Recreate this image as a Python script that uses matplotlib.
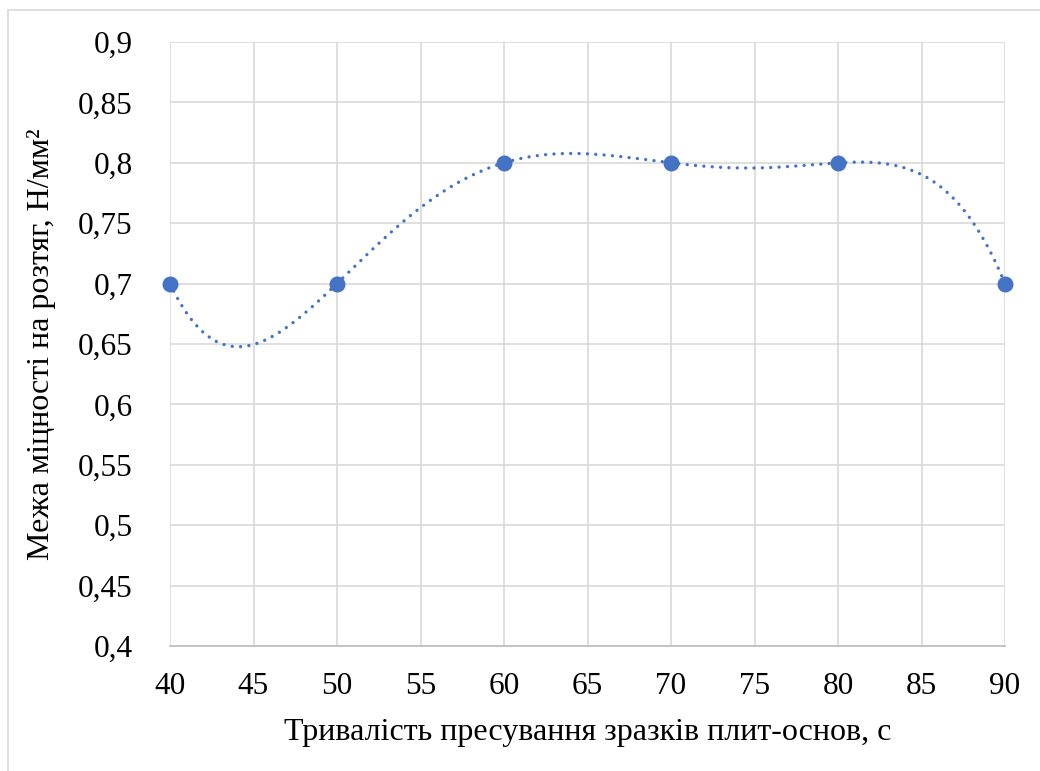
import numpy as np
import matplotlib
matplotlib.use("Agg")
import matplotlib.pyplot as plt
from matplotlib.patches import Rectangle

# data
duration = [40, 50, 60, 70, 80, 90]
strength = [0.7, 0.7, 0.8, 0.8, 0.8, 0.7]
x_ticks = [40, 45, 50, 55, 60, 65, 70, 75, 80, 85, 90]
y_ticks = [0.4, 0.45, 0.5, 0.55, 0.6, 0.65, 0.7, 0.75, 0.8, 0.85, 0.9]

plt.rcParams['font.family'] = ['Liberation Serif', 'DejaVu Serif']

W, H = 1040, 771
fig = plt.figure(figsize=(W / 100, H / 100), dpi=100)
ax = fig.add_axes([170 / W, 1 - 646 / H, (1005 - 170) / W, (646 - 42) / H])

# outer chart border (cut off at right/bottom like in the original)
fig.patches.append(Rectangle((8 / W, -0.1), 1.2, 1 - 10 / H + 0.1, transform=fig.transFigure,
                             fill=False, edgecolor='#D9D9D9', linewidth=1.2))

# polynomial trendline, order 5
coef = np.polyfit(duration, strength, 5)
xs = np.linspace(40, 90, 400)
ax.plot(xs, np.polyval(coef, xs), color='#4472C4', linewidth=2.4,
        linestyle=(0, (0.01, 2.5)), dash_capstyle='round', zorder=3)
ax.plot(duration, strength, 'o', color='#4472C4', markersize=10.5, zorder=4, clip_on=False)

ax.set_xlim(40, 90)
ax.set_ylim(0.4, 0.9)
ax.set_xticks(x_ticks)
ax.set_yticks(y_ticks)
ax.set_xticklabels([str(v) for v in x_ticks])
ax.set_yticklabels([('%g' % v).replace('.', ',') for v in y_ticks])
ax.tick_params(length=0, labelsize=22.5, colors='black')
ax.tick_params(axis='y', pad=27)
ax.tick_params(axis='x', pad=19)

ax.grid(True, color='#D9D9D9', linewidth=1.2)
ax.set_axisbelow(True)
for s in ['top', 'right', 'left']:
    ax.spines[s].set_visible(False)
ax.spines['bottom'].set_color('#BFBFBF')
ax.spines['bottom'].set_linewidth(1.3)

ax.set_xlabel('Тривалість пресування зразків плит-основ, с', fontsize=23, labelpad=12)
ax.set_ylabel('Межа міцності на розтяг, Н/мм²', fontsize=23, labelpad=16)

fig.savefig('out.png', dpi=100)
